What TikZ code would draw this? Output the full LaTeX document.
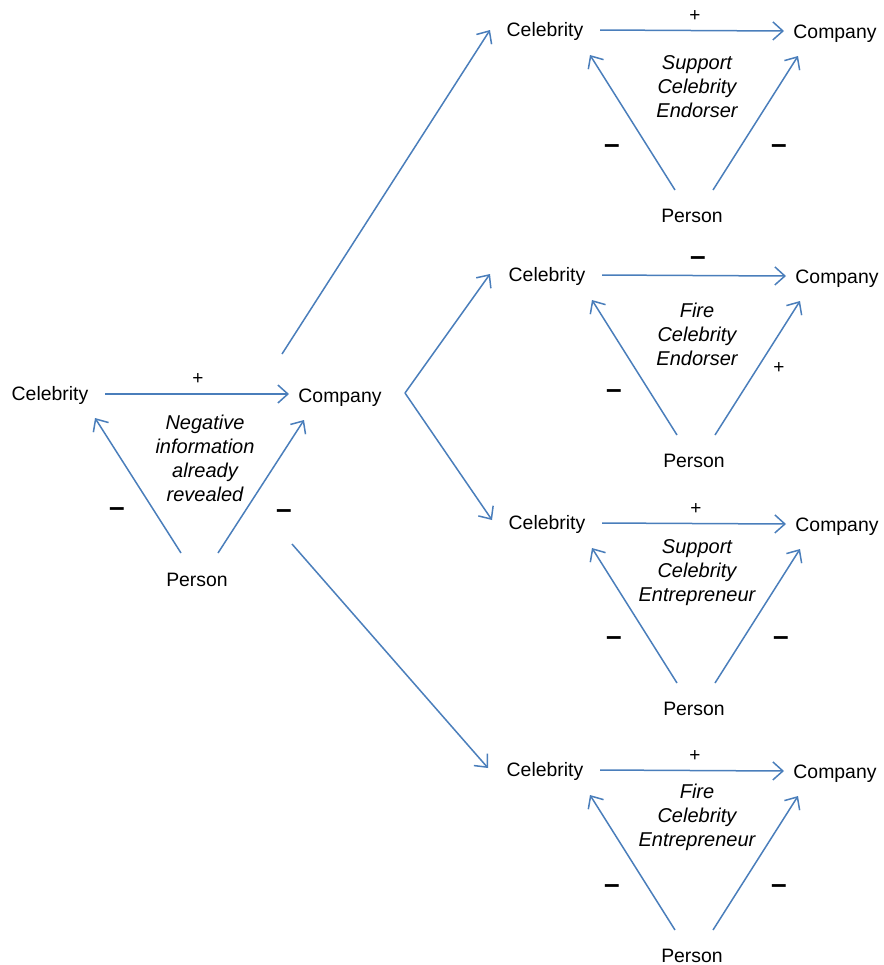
\documentclass[tikz,border=0pt]{standalone}
\usepackage{fontspec}
\setmainfont{Liberation Sans}
\usetikzlibrary{arrows.meta}
\definecolor{linkblue}{RGB}{74,126,187}

\begin{document}
\begin{tikzpicture}[x=0.5pt,y=-0.5pt,
  word/.style={inner sep=0pt,anchor=base,font=\fontsize{9.7}{12}\selectfont},
  note/.style={align=center,inner sep=0pt,font=\fontsize{10}{12}\selectfont\itshape},
  plus/.style={inner sep=0pt,font=\fontsize{9.5}{12}\selectfont},
  minus/.style={inner sep=0pt,anchor=base,font=\fontsize{14}{14}\selectfont\bfseries},
  link/.style={linkblue,line width=0.75pt,-{Straight Barb[length=5pt,width=9pt]}}]
 \useasboundingbox (0,0) rectangle (884,965);
 % starting situation
 \begin{scope}[shift={(50,393)}]
  \node[word] (celA) at (0,7) {Celebrity};
  \node[word] (comA) at (290,9) {Company};
  \node[word] (perA) at (147,193) {Person};
  \draw[link] ([shift={(55,-6)}]celA.base) -- ([shift={(-51,-8)}]comA.base);
  \draw[link] ([shift={(-16,-33)}]perA.base) -- ([shift={(45,18)}]celA.base);
  \draw[link] ([shift={(21,-33)}]perA.base) -- ([shift={(-36,18)}]comA.base);
  \node[note] (txtA) at (155,65) {Negative\\information\\already\\revealed};
  \node[plus] (topA) at (148,-14) {+};
  \node[minus] (leftA) at (67,123) {\textendash};
  \node[minus] (rightA) at (234,125) {\textendash};
 \end{scope}
 % support endorser
 \begin{scope}[shift={(545,29)}]
  \node[word] (celB) at (0,7) {Celebrity};
  \node[word] (comB) at (290,9) {Company};
  \node[word] (perB) at (147,193) {Person};
  \draw[link] ([shift={(55,-6)}]celB.base) -- ([shift={(-51,-7)}]comB.base);
  \draw[link] ([shift={(-17,-32)}]perB.base) -- ([shift={(45,19)}]celB.base);
  \draw[link] ([shift={(21,-32)}]perB.base) -- ([shift={(-37,18)}]comB.base);
  \node[note] (txtB) at (152,58) {Support\\Celebrity\\Endorser};
  \node[plus] (topB) at (150,-13) {+};
  \node[minus] (leftB) at (67,124) {\textendash};
  \node[minus] (rightB) at (234,124) {\textendash};
 \end{scope}
 % fire endorser
 \begin{scope}[shift={(547,274)}]
  \node[word] (celC) at (0,7) {Celebrity};
  \node[word] (comC) at (290,9) {Company};
  \node[word] (perC) at (147,193) {Person};
  \draw[link] ([shift={(55,-6)}]celC.base) -- ([shift={(-51,-7)}]comC.base);
  \draw[link] ([shift={(-17,-32)}]perC.base) -- ([shift={(45,19)}]celC.base);
  \draw[link] ([shift={(21,-32)}]perC.base) -- ([shift={(-37,18)}]comC.base);
  \node[note] (txtC) at (150,60) {Fire\\Celebrity\\Endorser};
  \node[minus] (topC) at (151,-9) {\textendash};
  \node[minus] (leftC) at (67,124) {\textendash};
  \node[plus] (rightC) at (232,94) {+};
 \end{scope}
 % support entrepreneur
 \begin{scope}[shift={(547,522)}]
  \node[word] (celD) at (0,7) {Celebrity};
  \node[word] (comD) at (290,9) {Company};
  \node[word] (perD) at (147,193) {Person};
  \draw[link] ([shift={(55,-6)}]celD.base) -- ([shift={(-51,-7)}]comD.base);
  \draw[link] ([shift={(-17,-32)}]perD.base) -- ([shift={(45,19)}]celD.base);
  \draw[link] ([shift={(21,-32)}]perD.base) -- ([shift={(-37,18)}]comD.base);
  \node[note] (txtD) at (150,51) {Support\\Celebrity\\Entrepreneur};
  \node[plus] (topD) at (149,-13) {+};
  \node[minus] (leftD) at (67,123) {\textendash};
  \node[minus] (rightD) at (234,123) {\textendash};
 \end{scope}
 % fire entrepreneur
 \begin{scope}[shift={(545,769)}]
  \node[word] (celE) at (0,7) {Celebrity};
  \node[word] (comE) at (290,9) {Company};
  \node[word] (perE) at (147,193) {Person};
  \draw[link] ([shift={(55,-6)}]celE.base) -- ([shift={(-51,-7)}]comE.base);
  \draw[link] ([shift={(-17,-32)}]perE.base) -- ([shift={(45,19)}]celE.base);
  \draw[link] ([shift={(21,-32)}]perE.base) -- ([shift={(-37,18)}]comE.base);
  \node[note] (txtE) at (152,48) {Fire\\Celebrity\\Entrepreneur};
  \node[plus] (topE) at (150,-13) {+};
  \node[minus] (leftE) at (67,124) {\textendash};
  \node[minus] (rightE) at (234,124) {\textendash};
 \end{scope}
 % branches
 \coordinate (fork) at ([shift={(65,-9)}]comA.base);
 \draw[link] ([shift={(-58,-48)}]comA.base) -- ([shift={(-55,-6)}]celB.base);
 \draw[link] (fork) -- ([shift={(-57,-7)}]celC.base);
 \draw[link] (fork) -- ([shift={(-55,-9)}]celD.base);
 \draw[link] ([shift={(-48,142)}]comA.base) -- ([shift={(-57,-8)}]celE.base);
\end{tikzpicture}
\end{document}
